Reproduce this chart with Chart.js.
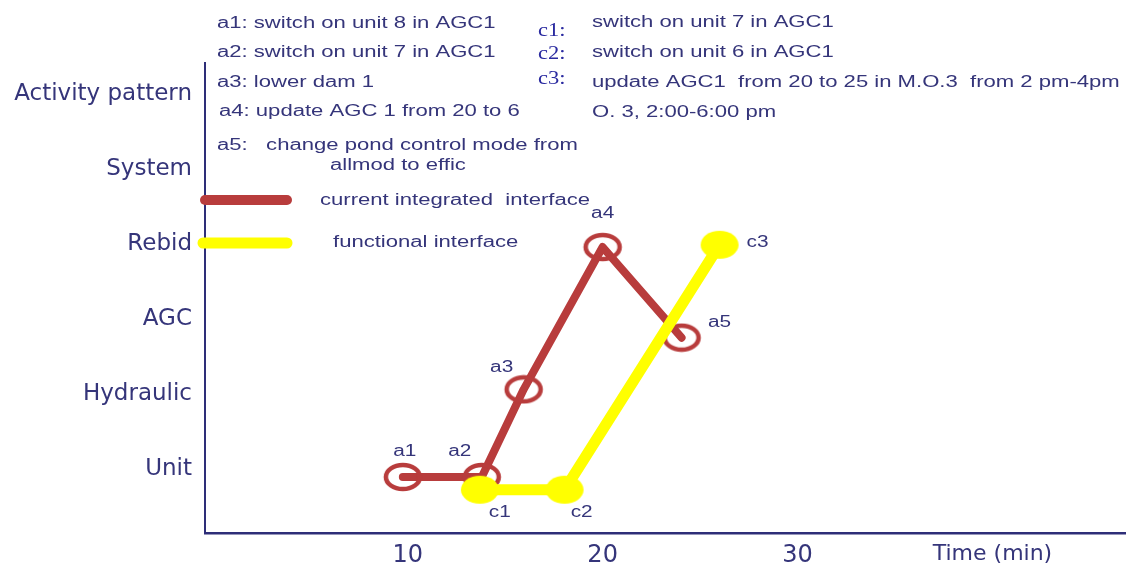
<!DOCTYPE html>
<html>
<head>
<meta charset="utf-8">
<script src="https://cdn.jsdelivr.net/npm/chart.js@4/dist/chart.umd.min.js"></script>
<style>
  html, body { margin: 0; padding: 0; background: #fff; }
  #wrap { width: 1133px; height: 566px; }
</style>
</head>
<body>
<div id="wrap"><canvas id="activityChart" width="1133" height="566"></canvas></div>
<script>
// Activity pattern vs time for the two interfaces

const levelLabels = ["Unit", "Hydraulic", "AGC", "Rebid", "System", "Activity pattern"];
const levelValues = [1, 2, 3, 4, 5, 6];
const xTickValues = [10, 20, 30, 40];
const xTickLabels = ["10", "20", "30", "Time (min)"];

const currentNames = ["a1", "a2", "a3", "a4", "a5"];
const currentX = [9.75, 13.8, 15.95, 20.0, 24.05];
const currentY = [0.89, 0.89, 2.06, 3.96, 2.75];

const functionalNames = ["c1", "c2", "c3"];
const functionalX = [13.7, 18.05, 26.0];
const functionalY = [0.72, 0.72, 3.99];

const legendNames = ["current integrated  interface", "functional interface"];

const leftNotes = [
    "a1: switch on unit 8 in AGC1",
    "a2: switch on unit 7 in AGC1",
    "a3: lower dam 1",
    "a4: update AGC 1 from 20 to 6",
    "a5:   change pond control mode from",
    "allmod to effic"
];
const rightKeys = ["c1:", "c2:", "c3:"];
const rightNotes = [
    "switch on unit 7 in AGC1",
    "switch on unit 6 in AGC1",
    "update AGC1  from 20 to 25 in M.O.3  from 2 pm-4pm",
    "O. 3, 2:00-6:00 pm"
];

const RED = "#b83c3c";
const YELLOW = "#ffff00";
const NAVY = "#35357a";
const AXIS = "#2e2e78";

// elliptical markers (the source picture is stretched sideways)
function ringMarker() {
    const c = document.createElement("canvas");
    c.width = 42; c.height = 30;
    const g = c.getContext("2d");
    g.strokeStyle = RED;
    g.lineWidth = 4.5;
    g.beginPath();
    g.ellipse(21, 15, 17, 12, 0, 0, Math.PI * 2);
    g.stroke();
    return c;
}
function dotMarker() {
    const c = document.createElement("canvas");
    c.width = 40; c.height = 30;
    const g = c.getContext("2d");
    g.fillStyle = YELLOW;
    g.beginPath();
    g.ellipse(20, 15, 19, 14, 0, 0, Math.PI * 2);
    g.fill();
    return c;
}

function drawText(ctx, str, x, y, font, color, sx, align) {
    ctx.save();
    ctx.font = font;
    ctx.fillStyle = color;
    ctx.textBaseline = "middle";
    ctx.textAlign = align || "left";
    ctx.translate(x, y);
    ctx.scale(sx, 1);
    ctx.fillText(str, 0, 0);
    ctx.restore();
}

const NOTE_FONT = "16px 'Liberation Sans', Arial, sans-serif";
const KEY_FONT = "18px 'Liberation Serif', 'Times New Roman', serif";
const SX = 1.38;

const notesPlugin = {
    id: "notes",
    afterDraw(chart) {
        const ctx = chart.ctx;
        // top notes
        const leftY = [24, 53, 83, 112, 146, 166];
        const leftX = [217, 217, 217, 219, 217, 330];
        leftNotes.forEach((t, i) => drawText(ctx, t, leftX[i], leftY[i], NOTE_FONT, NAVY, SX));
        const keyY = [31, 54, 79];
        rightKeys.forEach((t, i) => drawText(ctx, t, 538, keyY[i], KEY_FONT, "#2a2aa0", 1.25));
        const noteY = [23, 53, 83, 113];
        rightNotes.forEach((t, i) => drawText(ctx, t, 592, noteY[i], NOTE_FONT, NAVY, SX));

        // legend strokes
        ctx.save();
        ctx.lineCap = "round";
        ctx.strokeStyle = RED;
        ctx.lineWidth = 10;
        ctx.beginPath(); ctx.moveTo(205, 200); ctx.lineTo(287, 200); ctx.stroke();
        ctx.strokeStyle = YELLOW;
        ctx.lineWidth = 11;
        ctx.beginPath(); ctx.moveTo(203, 243); ctx.lineTo(287, 243); ctx.stroke();
        ctx.restore();
        drawText(ctx, legendNames[0], 320, 201, NOTE_FONT, NAVY, SX);
        drawText(ctx, legendNames[1], 333, 243, NOTE_FONT, NAVY, SX);
    },
    afterDatasetsDraw(chart) {
        const ctx = chart.ctx;
        const offsets = {
            a1: [2, -25], a2: [-22, -25], a3: [-22, -22], a4: [0, -33], a5: [38, -15],
            c1: [20, 23], c2: [17, 23], c3: [38, -2]
        };
        chart.data.datasets.forEach((ds, di) => {
            const meta = chart.getDatasetMeta(di);
            meta.data.forEach((pt, i) => {
                const name = ds.pointNames[i];
                const o = offsets[name];
                drawText(ctx, name, pt.x + o[0], pt.y + o[1], NOTE_FONT, NAVY, 1.3, "center");
            });
        });
    }
};

const ctx = document.getElementById("activityChart").getContext("2d");

new Chart(ctx, {
    type: "line",
    data: {
        datasets: [
            {
                label: legendNames[1],
                pointNames: functionalNames,
                data: functionalX.map((x, i) => ({ x: x, y: functionalY[i] })),
                borderColor: YELLOW,
                borderWidth: 11,
                borderJoinStyle: "round",
                borderCapStyle: "round",
                pointStyle: dotMarker(),
                pointRadius: 15,
                fill: false,
                tension: 0,
                order: 0
            },
            {
                label: legendNames[0],
                pointNames: currentNames,
                data: currentX.map((x, i) => ({ x: x, y: currentY[i] })),
                borderColor: RED,
                borderWidth: 8,
                borderJoinStyle: "round",
                borderCapStyle: "round",
                pointStyle: ringMarker(),
                pointRadius: 15,
                fill: false,
                tension: 0,
                order: 1
            }
        ]
    },
    options: {
        responsive: false,
        devicePixelRatio: 1,
        animation: false,
        events: [],
        layout: { autoPadding: false, padding: { top: 63, right: 8, left: 0, bottom: 0 } },
        plugins: {
            legend: { display: false },
            tooltip: { enabled: false }
        },
        scales: {
            x: {
                type: "linear",
                min: -0.4,
                max: 46.8,
                afterBuildTicks: s => { s.ticks = xTickValues.map(v => ({ value: v })); },
                afterFit: s => { s.height = 33; s.paddingLeft = 0; s.paddingRight = 0; },
                grid: { display: false, drawTicks: false },
                border: { display: true, color: AXIS, width: 2.5 },
                ticks: {
                    autoSkip: false,
                    maxRotation: 0,
                    padding: 8,
                    color: NAVY,
                    font: c => (c.tick && c.tick.value === 40)
                        ? { family: "'DejaVu Sans', sans-serif", size: 22 }
                        : { family: "'DejaVu Sans', sans-serif", size: 24 },
                    callback: v => xTickLabels[xTickValues.indexOf(v)]
                }
            },
            y: {
                type: "linear",
                min: 0.142,
                max: 6.417,
                afterBuildTicks: s => { s.ticks = levelValues.map(v => ({ value: v })); },
                afterFit: s => { s.width = 205; s.paddingTop = 0; s.paddingBottom = 0; },
                grid: { display: false, drawTicks: false },
                border: { display: true, color: AXIS, width: 2 },
                ticks: {
                    autoSkip: false,
                    padding: 13,
                    color: NAVY,
                    font: { family: "'DejaVu Sans', sans-serif", size: 23 },
                    callback: v => levelLabels[levelValues.indexOf(v)]
                }
            }
        }
    },
    plugins: [notesPlugin]
});
</script>
</body>
</html>
